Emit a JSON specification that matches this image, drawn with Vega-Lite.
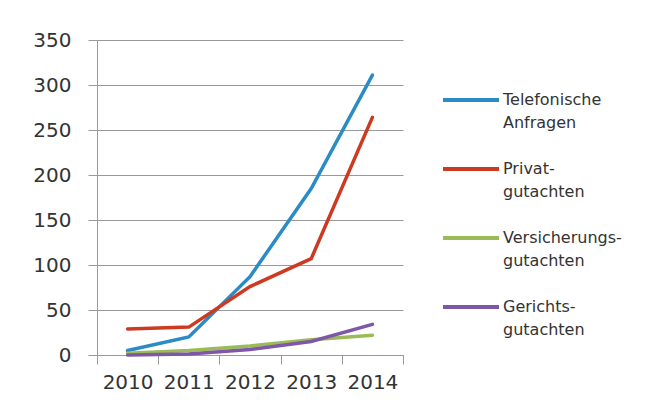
{
  "$schema": "https://vega.github.io/schema/vega-lite/v6.json",
  "autosize": {"type": "none"},
  "padding": {"left": 97, "top": 40, "right": 247, "bottom": 64},
  "width": 306,
  "height": 315,
  "background": "white",
  "data": {"values": [
    {"jahr": "2010", "art": "Telefonische Anfragen", "wert": 5},
    {"jahr": "2011", "art": "Telefonische Anfragen", "wert": 20},
    {"jahr": "2012", "art": "Telefonische Anfragen", "wert": 87},
    {"jahr": "2013", "art": "Telefonische Anfragen", "wert": 185},
    {"jahr": "2014", "art": "Telefonische Anfragen", "wert": 311},
    {"jahr": "2010", "art": "Privatgutachten", "wert": 29},
    {"jahr": "2011", "art": "Privatgutachten", "wert": 31},
    {"jahr": "2012", "art": "Privatgutachten", "wert": 76},
    {"jahr": "2013", "art": "Privatgutachten", "wert": 107},
    {"jahr": "2014", "art": "Privatgutachten", "wert": 264},
    {"jahr": "2010", "art": "Versicherungsgutachten", "wert": 2},
    {"jahr": "2011", "art": "Versicherungsgutachten", "wert": 5},
    {"jahr": "2012", "art": "Versicherungsgutachten", "wert": 10},
    {"jahr": "2013", "art": "Versicherungsgutachten", "wert": 17},
    {"jahr": "2014", "art": "Versicherungsgutachten", "wert": 22},
    {"jahr": "2010", "art": "Gerichtsgutachten", "wert": 0},
    {"jahr": "2011", "art": "Gerichtsgutachten", "wert": 1},
    {"jahr": "2012", "art": "Gerichtsgutachten", "wert": 6},
    {"jahr": "2013", "art": "Gerichtsgutachten", "wert": 15},
    {"jahr": "2014", "art": "Gerichtsgutachten", "wert": 34}
  ]},
  "mark": {"type": "line", "strokeWidth": 3.5, "strokeCap": "round"},
  "encoding": {
    "x": {
      "field": "jahr", "type": "ordinal",
      "scale": {"type": "band", "paddingInner": 0, "paddingOuter": 0},
      "axis": {
        "title": null, "tickBand": "extent", "labelAngle": 0,
        "domainColor": "#999999", "tickColor": "#999999", "tickSize": 9,
        "labelFont": "DejaVu Sans", "labelFontSize": 20, "labelColor": "#333333",
        "labelPadding": 8, "grid": false
      }
    },
    "y": {
      "field": "wert", "type": "quantitative",
      "scale": {"domain": [0, 350], "nice": false},
      "axis": {
        "title": null, "values": [0, 50, 100, 150, 200, 250, 300, 350],
        "grid": true, "gridColor": "#999999", "gridWidth": 1,
        "domain": true, "domainColor": "#999999",
        "tickColor": "#999999", "tickSize": 9,
        "labelFont": "DejaVu Sans", "labelFontSize": 20, "labelColor": "#333333",
        "labelPadding": 17
      }
    },
    "color": {
      "field": "art", "type": "nominal",
      "scale": {
        "domain": ["Telefonische Anfragen", "Privatgutachten", "Versicherungsgutachten", "Gerichtsgutachten"],
        "range": ["#2B8BC6", "#CC3A21", "#9BBB59", "#7E57A8"]
      },
      "legend": {
        "title": null, "orient": "none", "legendX": 344, "legendY": 30,
        "symbolType": "stroke", "symbolSize": 3136, "symbolStrokeWidth": 4,
        "labelFont": "DejaVu Sans", "labelFontSize": 16, "labelColor": "#333333",
        "labelLimit": 200, "labelOffset": 2, "labelBaseline": "middle",
        "rowPadding": 8,
        "labelExpr": "datum.label == 'Telefonische Anfragen' ? ['Telefonische', 'Anfragen'] : datum.label == 'Privatgutachten' ? ['Privat-', 'gutachten'] : datum.label == 'Versicherungsgutachten' ? ['Versicherungs-', 'gutachten'] : ['Gerichts-', 'gutachten']"
      }
    }
  },
  "config": {"view": {"stroke": null}, "style": {"guide-label": {"lineHeight": 23}}}
}
